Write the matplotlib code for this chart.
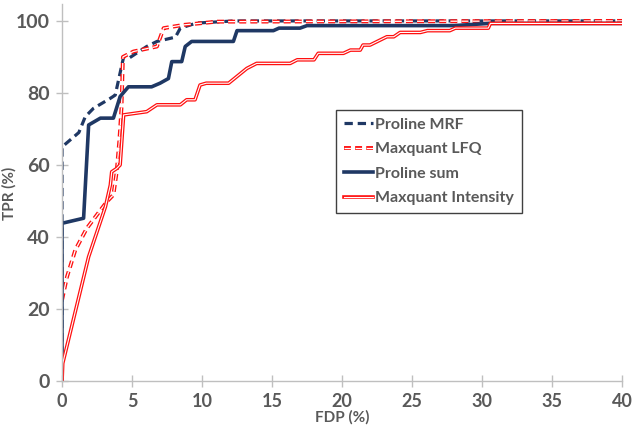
import matplotlib
matplotlib.use("Agg")
import matplotlib.pyplot as plt
import matplotlib.patheffects as pe

plt.rcParams['font.family'] = ['Lato', 'DejaVu Sans']
plt.rcParams['lines.scale_dashes'] = False

# Proline MRF
mrf_x = [0, 0, 1.2, 1.66, 2.24, 3.45, 3.8, 4.4, 4.76, 6.05, 6.78, 8.1, 8.45, 9.6, 12.3, 40]
mrf_y = [0, 65, 69, 73.4, 75.7, 78.5, 79.4, 90, 89.6, 92.9, 94.3, 95.5, 98, 99.4, 100, 100]

# Maxquant LFQ
lfq_x = [0, 0.36, 0.95, 1.77, 3.2, 3.67, 3.9, 4.1, 4.25, 4.35, 5.1, 6.78, 7.26, 8.7, 11.06, 40]
lfq_y = [22.5, 29, 36.4, 42.4, 49.8, 51.7, 58, 67, 76, 90, 91.5, 92.9, 98, 98.9, 99.8, 100]

# Proline sum
sum_x = [0, 0, 1.54, 1.9, 2.74, 3.67, 4.15, 4.74, 6.4, 7.0, 7.6, 7.84, 8.55, 8.8, 9.26,
         12.24, 12.5, 15.1, 15.5, 17.0, 17.5, 28, 30.5, 40]
sum_y = [0, 43.8, 45.2, 71.1, 73, 73, 79, 81.7, 81.7, 82.7, 84, 88.7, 88.7, 92.9, 94.3,
         94.3, 97.3, 97.3, 98, 98, 98.7, 98.7, 99.3, 99.3]

# Maxquant Intensity
int_x = [0, 0.05, 1.9, 3.1, 3.45, 3.55, 3.9, 4.15, 4.4, 6.05, 6.78, 8.45, 8.9, 9.5, 9.86,
         10.3, 11.9, 13.2, 13.9, 16.3, 16.8, 18.0, 18.3, 20.1, 20.6, 21.3, 21.5, 22.0,
         23.2, 23.7, 24.15, 25.6, 26.1, 27.7, 28.1, 30.45, 30.6, 40]
int_y = [0, 4.9, 34.5, 48.4, 54.4, 58.1, 59, 60, 73.9, 74.8, 76.7, 76.7, 78.1, 78.1, 82.2,
         82.7, 82.7, 86.8, 88.2, 88.2, 89.2, 89.2, 91, 91, 91.9, 91.9, 93.3, 93.3,
         95.6, 95.6, 96.8, 96.8, 97.3, 97.3, 98, 98, 99.3, 99.3]

navy = '#1f3864'
red = '#ff1010'
gray = '#595959'

fig = plt.figure(figsize=(6.33, 4.30), dpi=100)
ax = fig.add_axes([0.098, 0.114, 0.8846, 0.8767])

ax.plot(mrf_x, mrf_y, color=navy, lw=2.3, dashes=(6, 3.5), label='Proline MRF')
ax.plot(lfq_x, lfq_y, color='white', lw=0.9, dashes=(5, 3), label='Maxquant LFQ',
        path_effects=[pe.Stroke(linewidth=2.8, foreground=red), pe.Normal()])
ax.plot(sum_x, sum_y, color=navy, lw=2.6, label='Proline sum')
ax.plot(int_x, int_y, color='white', lw=0.8, label='Maxquant Intensity',
        path_effects=[pe.Stroke(linewidth=2.6, foreground=red), pe.Normal()])

ax.set_xlim(0, 40)
ax.set_ylim(0, 104.7)
ax.set_xticks(range(0, 41, 5))
ax.set_yticks(range(0, 101, 20))

for s in ['top', 'right']:
    ax.spines[s].set_visible(False)
for s in ['left', 'bottom']:
    ax.spines[s].set_color('#bfbfbf')
    ax.spines[s].set_linewidth(1.0)

ax.tick_params(axis='both', direction='inout', length=8, width=1.0, color='#bfbfbf',
               labelcolor=gray)
ax.tick_params(axis='y', labelsize=14, pad=5)
ax.tick_params(axis='x', labelsize=13, pad=5)
for lbl in ax.get_xticklabels() + ax.get_yticklabels():
    lbl.set_fontweight('bold')

ax.set_xlabel('FDP (%)', fontsize=11, fontweight='bold', color=gray, labelpad=0)
fig.text(9 / 633, 0.55, 'TPR (%)', rotation=90, ha='center', va='center',
         fontsize=11, fontweight='bold', color=gray)

leg = ax.legend(loc='upper left', bbox_to_anchor=(0.489, 0.72), borderaxespad=0,
                fancybox=False, framealpha=1, edgecolor='#404040',
                handlelength=1.8, handletextpad=0.15, labelspacing=0.65,
                borderpad=0.5, prop={'weight': 'bold', 'size': 11.5})
leg.get_frame().set_linewidth(1.0)
for t in leg.get_texts():
    t.set_color(gray)

fig.savefig('out.png', dpi=100)
